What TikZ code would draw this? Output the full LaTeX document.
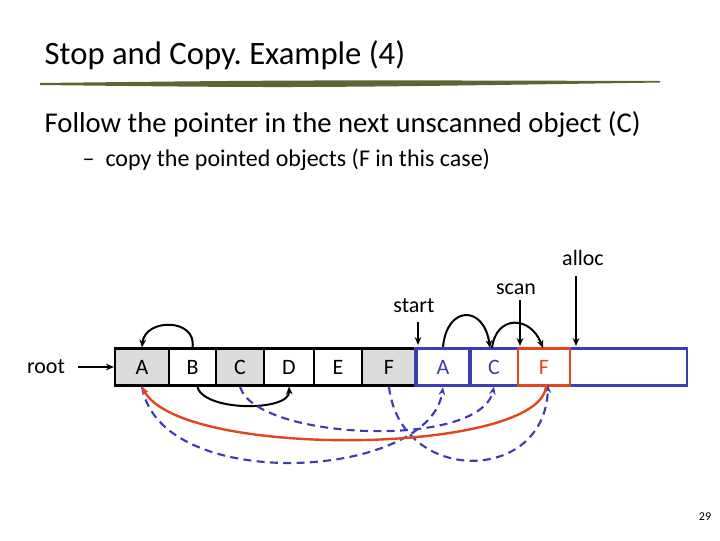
\documentclass[tikz,border=0pt]{standalone}
\usepackage{fontspec}
\setmainfont{Carlito}
\frenchspacing
\usetikzlibrary{arrows.meta}
\definecolor{bl}{RGB}{60,60,180}
\definecolor{rd}{RGB}{225,70,30}
\definecolor{ol}{RGB}{95,100,50}
\definecolor{gr}{RGB}{220,220,220}
\begin{document}
\begin{tikzpicture}[x=0.75pt,y=-0.75pt,
  cell/.style={draw,line width=1.6pt,minimum height=27.75pt,inner sep=0pt,font=\fontsize{16.5}{16.5}\selectfont},
  lbl/.style={font=\fontsize{16.5}{18}\selectfont},
  blk/.style={line width=1.5pt,-{Stealth[length=6pt,width=5pt]}},
  bd/.style={draw=bl,line width=1.6pt,dash pattern=on 6pt off 4pt,-{Stealth[length=6pt,width=5pt]}},
  rda/.style={draw=rd,line width=1.8pt,-{Stealth[length=6pt,width=5pt]}}]
\useasboundingbox (0,0) rectangle (720,540);
\node[anchor=west,font=\fontsize{24.5}{28}\selectfont] (title) at (40,55) {Stop and Copy. Example (4)};
\fill[ol] (40,83) .. controls (300,80) .. (660,81) -- (660,82.5) .. controls (300,88) .. (40,85) -- cycle;
\node[anchor=west,font=\fontsize{21.5}{24}\selectfont] (l1) at (40,124) {Follow the pointer in the next unscanned object (C)};
\node[anchor=west,font=\fontsize{18}{20}\selectfont] (l2) at (78,160) {–\ \ copy the pointed objects (F in this case)};
% old cells
\node[cell,fill=gr,minimum width=40.5pt] (A) at (142,367) {A};
\node[cell,minimum width=35.25pt] (B) at (192.5,367) {B};
\node[cell,fill=gr,minimum width=36pt] (C) at (240,367) {C};
\node[cell,minimum width=37.5pt] (D) at (289,367) {D};
\node[cell,minimum width=36pt] (E) at (338,367) {E};
\node[cell,fill=gr,minimum width=40.5pt] (F) at (389,367) {F};
% new space
\node[cell,draw=bl,minimum width=202.5pt,anchor=west] (rest) at (416,367) {};
\node[cell,draw=bl,line width=2.5pt,text=bl,minimum width=40.5pt] (nA) at (443,367) {A};
\node[cell,draw=bl,text=bl,minimum width=36pt] (nC) at (494,367) {C};
\node[cell,draw=rd,line width=2pt,text=rd,minimum width=39pt] (nF) at (544,367) {F};
% labels
\node[lbl] (root) at (46,367) {root};
\node[lbl] (start) at (414,306) {start};
\node[lbl] (scan) at (516,289) {scan};
\node[lbl] (alloc) at (583,258) {alloc};
\coordinate (st) at (418,322); \coordinate (sc) at (520,300); \coordinate (al) at (576,276);
\draw[blk] (root.east)++(8,0) -- (A.west);
\draw[blk,line width=1.2pt] (st) -- (418,345);
\draw[blk,line width=1.2pt] (sc) -- (520,346);
\draw[blk,line width=1.2pt] (al) -- (576,346);
% black curves
\draw[blk] (B.north) .. controls (197,318) and (145,318) .. (A.north);
\draw[blk] (197,385) .. controls (200,412) and (290,412) .. (D.south);
\draw[blk] (nA.north) .. controls (447,305) and (484,305) .. (490,348);
\draw[blk] (492,348) .. controls (496,315) and (530,315) .. (543,348);
% blue dashed
\draw[bd] (C.south) .. controls (255,440) and (480,450) .. (nC.south);
\draw[bd] (A.south) .. controls (160,495) and (430,480) .. (nA.south);
\draw[bd] (F.south) .. controls (400,485) and (545,485) .. (548,385);
% red
\draw[rda] (546,385) .. controls (545,455) and (180,460) .. (A.south);
\node[font=\fontsize{9}{10}\selectfont] (pg) at (705,517) {29};
\end{tikzpicture}
\end{document}
